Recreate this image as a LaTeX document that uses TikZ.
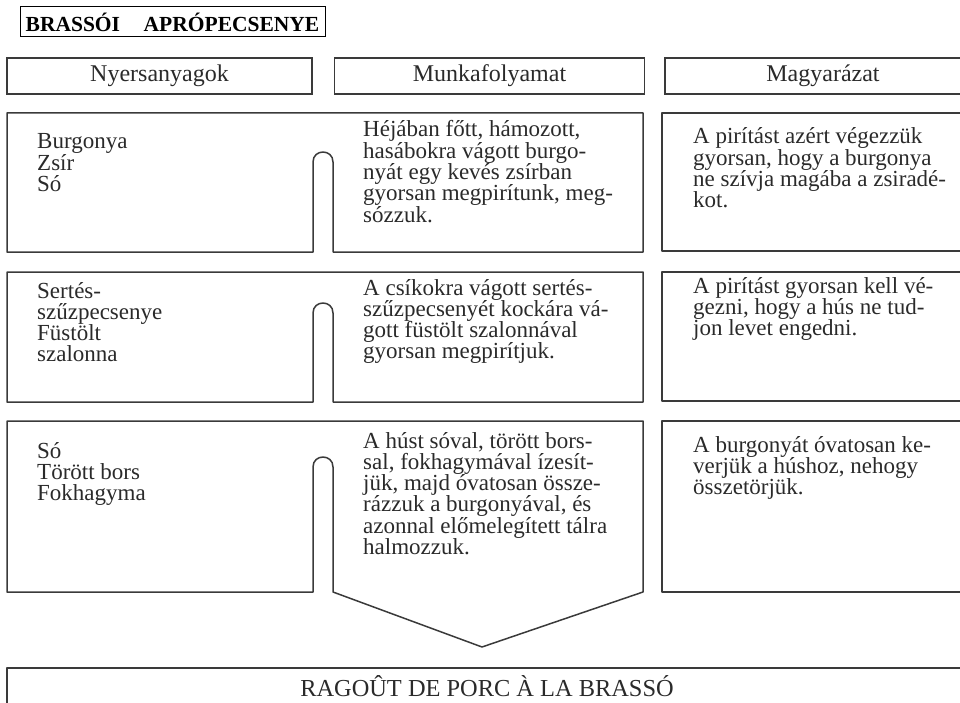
\documentclass[tikz,border=0pt]{standalone}
\usepackage{fontspec}
\setmainfont{Liberation Serif}
\usetikzlibrary{positioning}

\definecolor{ink}{HTML}{2A2A2A}
\definecolor{rule}{HTML}{3A3A3A}

% lines of a box, first baseline on the node's base
\newcommand{\lines}[1]{\parbox[t]{280pt}{\raggedright\lineskiplimit=-20pt #1}}

\tikzset{
	frame/.style={draw=rule, line width=1.5pt, line join=round},
	head/.style={draw=rule, line width=1.5pt, minimum height=36, inner sep=0pt, text=ink, font=\fontsize{24}{21}\selectfont},
	body/.style={anchor=base west, inner sep=0pt, text=ink, font=\fontsize{23}{21.3}\selectfont},
}

\begin{document}
\begin{tikzpicture}[x=1pt, y=-1pt]
	\path[use as bounding box, clip] (0,0) rectangle (960,703);
	
	\node[draw=black, line width=1pt, minimum width=305, minimum height=30, inner sep=0pt, font=\fontsize{21.5}{21}\selectfont\bfseries] (title) at (172.5,22) {BRASSÓI\hspace{1.1em}APRÓPECSENYE};
	
	\node[head, minimum width=305] (hNyers) at (159.5,76) {Nyersanyagok};
	\node[head, minimum width=310, right=21pt of hNyers] (hMunka) {Munkafolyamat};
	\node[head, minimum width=316, right=19pt of hMunka] (hMagy) {Magyarázat};
	
	% the three steps, ingredients and work share one outline
	\draw[frame] (7,113) -- (643,113) -- (643,252) -- (333,252) -- (333,162)
		.. controls (333,148.7) and (313,148.7) .. (313,162) -- (313,252) -- (7,252) -- cycle;
	\draw[frame] (7,272) -- (643,272) -- (643,402) -- (333,402) -- (333,313)
		.. controls (333,299.7) and (313,299.7) .. (313,313) -- (313,402) -- (7,402) -- cycle;
	\draw[frame] (7,421) -- (643,421) -- (643,592) -- (482,647) -- (333,592) -- (333,467)
		.. controls (333,453.7) and (313,453.7) .. (313,467) -- (313,592) -- (7,592) -- cycle;
	
	\draw[frame] (980,113) -- (662,113) -- (662,251) -- (980,251);
	\draw[frame] (980,272) -- (662,272) -- (662,401) -- (980,401);
	\draw[frame] (980,421) -- (662,421) -- (662,592) -- (980,592);
	\draw[frame] (7,720) -- (7,668) -- (980,668);
	
	\node[body] (ny1) at (37,149) {\lines{Burgonya\\Zsír\\Só}};
	\node[body] (mu1) at (363,137) {\lines{Héjában főtt, hámozott,\\hasábokra vágott burgo-\\nyát egy kevés zsírban\\gyorsan megpirítunk, meg-\\sózzuk.}};
	\node[body] (ma1) at (693,144) {\lines{A pirítást azért végezzük\\gyorsan, hogy a burgonya\\ne szívja magába a zsiradé-\\kot.}};
	
	\node[body] (ny2) at (37,298) {\lines{Sertés-\\szűzpecsenye\\Füstölt\\szalonna}};
	\node[body] (mu2) at (363,295) {\lines{A csíkokra vágott sertés-\\szűzpecsenyét kockára vá-\\gott füstölt szalonnával\\gyorsan megpirítjuk.}};
	\node[body] (ma2) at (693,293) {\lines{A pirítást gyorsan kell vé-\\gezni, hogy a hús ne tud-\\jon levet engedni.}};
	
	\node[body] (ny3) at (37,458) {\lines{Só\\Törött bors\\Fokhagyma}};
	\node[body] (mu3) at (363,448) {\lines{A húst sóval, törött bors-\\sal, fokhagymával ízesít-\\jük, majd óvatosan össze-\\rázzuk a burgonyával, és\\azonnal előmelegített tálra\\halmozzuk.}};
	\node[body] (ma3) at (693,452) {\lines{A burgonyát óvatosan ke-\\verjük a húshoz, nehogy\\összetörjük.}};
	
	\node[anchor=base, inner sep=0pt, text=ink, font=\fontsize{24.4}{24}\selectfont] (dish) at (487,696) {RAGOÛT DE PORC À LA BRASSÓ};
\end{tikzpicture}
\end{document}
